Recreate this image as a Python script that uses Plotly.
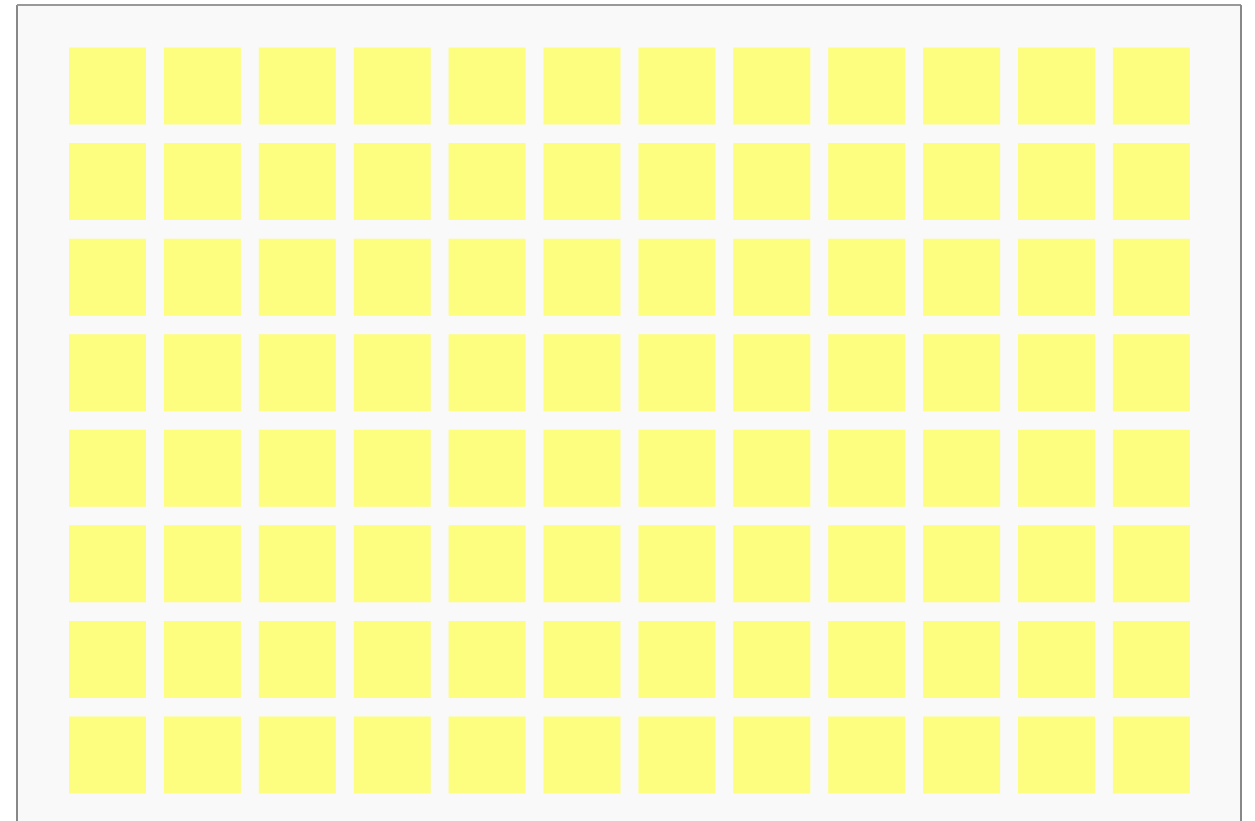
import numpy as np
import plotly.graph_objects as go

# Grid of cells: 12 columns x 8 rows
columns = list(range(12))
rows = list(range(8))
cell_values = [[1] * len(columns) for _ in rows]

xs, ys = [], []
for r in rows:
    for c in columns:
        if cell_values[r][c]:
            xs.append(c)
            ys.append(r)

fig = go.Figure()
fig.add_trace(go.Scatter(
    x=xs, y=ys, mode="markers",
    marker=dict(symbol="square", size=77, color="#fdfd80", line=dict(width=0)),
    hoverinfo="skip", showlegend=False,
))

fig.update_layout(
    width=1255, height=821,
    margin=dict(l=17, r=14, t=5, b=0, pad=0),
    paper_bgcolor="#ffffff",
    plot_bgcolor="#f9f9f9",
    xaxis=dict(range=[-0.9536, 11.944], showgrid=False, zeroline=False,
               showticklabels=False, showline=False, fixedrange=True),
    yaxis=dict(range=[7.691, -0.8475], showgrid=False, zeroline=False,
               showticklabels=False, showline=False, fixedrange=True),
    shapes=[
        dict(type="line", xref="paper", yref="paper", x0=0, x1=0, y0=0, y1=1,
             line=dict(color="#888888", width=2)),
        dict(type="line", xref="paper", yref="paper", x0=0, x1=1, y0=1, y1=1,
             line=dict(color="#999999", width=2)),
        dict(type="line", xref="paper", yref="paper", x0=1, x1=1, y0=0, y1=1,
             line=dict(color="#888888", width=2)),
    ],
)

fig.write_html(
    "out.html",
    config={"displayModeBar": False, "staticPlot": True},
    post_script="document.body.style.margin='0';document.body.style.overflow='hidden';",
)
